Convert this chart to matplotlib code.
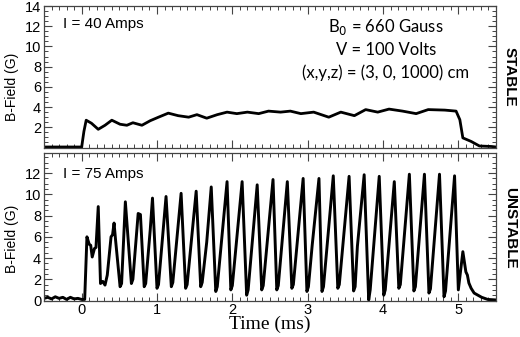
import matplotlib
matplotlib.use("Agg")
import matplotlib.pyplot as plt
from matplotlib.ticker import MultipleLocator, FixedLocator
import numpy as np

# ---- data ----
stable_t = [-0.5, -0.2, 0.0, 0.03, 0.06, 0.13, 0.22, 0.31, 0.40, 0.51, 0.60, 0.68, 0.80,
            0.91, 1.02, 1.15, 1.28, 1.42, 1.53, 1.66, 1.80, 1.93, 2.06, 2.20, 2.35,
            2.48, 2.64, 2.77, 2.91, 3.08, 3.28, 3.44, 3.62, 3.77, 3.93, 4.08, 4.26,
            4.44, 4.60, 4.82, 4.97, 5.02, 5.06, 5.17, 5.28, 5.44, 5.5]
stable_b = [0.05, 0.05, 0.05, 1.6, 2.7, 2.4, 1.8, 2.2, 2.7, 2.3, 2.2, 2.45, 2.2,
            2.65, 3.0, 3.4, 3.15, 3.0, 3.25, 2.9, 3.25, 3.5, 3.35, 3.5, 3.35,
            3.6, 3.5, 3.6, 3.35, 3.5, 3.0, 3.5, 3.15, 3.75, 3.5, 3.8, 3.6,
            3.35, 3.75, 3.7, 3.6, 2.75, 0.95, 0.6, 0.15, 0.1, 0.05]

unstable_t = [-0.5, -0.45, -0.4, -0.35, -0.3, -0.25, -0.2, -0.15, -0.1, -0.05, 0.0, 0.04,
              0.07, 0.10, 0.12, 0.14, 0.17, 0.19, 0.22, 0.25, 0.28, 0.31, 0.34, 0.39, 0.41,
              0.43, 0.45, 0.51, 0.53, 0.58, 0.66, 0.68, 0.75, 0.78, 0.83, 0.85, 0.91, 0.94,
              1.00, 1.02, 1.12, 1.19, 1.21, 1.32, 1.38, 1.40, 1.52, 1.58, 1.60, 1.66,
              1.72, 1.78, 1.80, 1.93, 1.98, 2.00, 2.13, 2.19, 2.21, 2.33, 2.39, 2.41,
              2.54, 2.59, 2.61, 2.73, 2.79, 2.81, 2.94, 2.99, 3.01, 3.06, 3.15, 3.19,
              3.21, 3.34, 3.40, 3.42, 3.55, 3.61, 3.63, 3.66, 3.75, 3.81, 3.83, 3.95,
              4.01, 4.03, 4.15, 4.21, 4.23, 4.35, 4.41, 4.43, 4.55, 4.61, 4.63, 4.75,
              4.81, 4.83, 4.95, 5.00, 5.06, 5.10, 5.12, 5.14, 5.17, 5.21, 5.26, 5.31,
              5.39, 5.5]
unstable_b = [0.2, 0.3, 0.15, 0.35, 0.2, 0.3, 0.1, 0.3, 0.15, 0.2, 0.1, 0.1,
              6.0, 5.3, 5.2, 4.1, 4.9, 5.0, 8.85, 1.6, 1.8, 1.45, 2.4, 6.0, 6.2,
              7.3, 5.7, 1.3, 1.6, 9.3, 1.6, 2.0, 8.2, 8.1, 1.3, 1.6, 6.65, 9.65,
              1.15, 1.5, 9.8, 1.3, 1.7, 10.1, 1.15, 1.5, 10.3, 1.3, 1.7, 5.5,
              10.7, 0.85, 1.3, 11.2, 1.0, 1.4, 11.2, 0.5, 1.0, 10.9, 1.0, 1.4,
              11.4, 1.0, 1.4, 11.2, 1.15, 1.5, 11.5, 0.85, 1.3, 5.2, 11.5, 0.85,
              1.3, 11.75, 1.15, 1.5, 11.7, 0.9, 1.3, 5.1, 11.85, 0.05, 1.0, 11.7,
              0.5, 1.0, 11.2, 1.15, 1.5, 11.9, 0.9, 1.3, 11.9, 0.7, 1.1, 11.9,
              0.35, 0.9, 11.75, 1.0, 4.6, 2.7, 2.4, 1.65, 1.15, 0.7, 0.5, 0.3,
              0.1, 0.05]

top_label = "I = 40 Amps"
bot_label = "I = 75 Amps"
info_lines = [r"B$_0$ = 660 Gauss", "V = 100 Volts", "(x,y,z) = (3, 0, 1000) cm"]
top_state = "STABLE"
bot_state = "UNSTABLE"
x_ticks = [0, 1, 2, 3, 4, 5]
top_yticks = [2, 4, 6, 8, 10, 12, 14]
bot_yticks = [0, 2, 4, 6, 8, 10, 12]

W, H = 520, 337
fig = plt.figure(figsize=(W / 100, H / 100), dpi=100)
sans = "Liberation Sans"

ax1 = fig.add_axes([44 / W, 1 - 147.5 / H, 452 / W, 141.5 / H])
ax2 = fig.add_axes([44 / W, 1 - 300.5 / H, 452 / W, 147.5 / H])

ax1.plot(stable_t, stable_b, color="black", lw=2.0, solid_joinstyle="round")
ax2.plot(unstable_t, unstable_b, color="black", lw=2.1, solid_joinstyle="round")

for ax, yt, ylim in ((ax1, top_yticks, (0, 14)), (ax2, bot_yticks, (0, 13.9))):
    ax.set_xlim(-0.5, 5.5)
    ax.set_ylim(*ylim)
    ax.xaxis.set_major_locator(FixedLocator(x_ticks))
    ax.xaxis.set_minor_locator(MultipleLocator(0.1))
    ax.yaxis.set_major_locator(FixedLocator(yt))
    ax.yaxis.set_minor_locator(MultipleLocator(0.5))
    ax.tick_params(which="both", direction="in", top=True, right=True,
                   color="#444444", labelsize=10.5)
    ax.tick_params(which="major", length=6, width=0.8, pad=2)
    ax.tick_params(which="minor", length=3, width=0.7)
    for s in ax.spines.values():
        s.set_color("#444444")
        s.set_linewidth(0.9)
    for lab in ax.get_yticklabels() + ax.get_xticklabels():
        lab.set_family(sans)
    ax.set_ylabel("B-Field (G)", family=sans, fontsize=10)

ax1.tick_params(labelbottom=False)
ax1.yaxis.set_label_coords(-0.056, 0.43)
ax2.yaxis.set_label_coords(-0.056, 0.42)
ax2.set_xlabel("Time (ms)", family="Liberation Serif", fontsize=14, labelpad=-1)

ax1.text(0.042, 0.873, top_label, transform=ax1.transAxes, family=sans,
         fontsize=11, va="center", ha="left")
ax2.text(0.042, 0.86, bot_label, transform=ax2.transAxes, family=sans,
         fontsize=11, va="center", ha="left")

cx = (386 - 44) / 452
for i, line in enumerate(info_lines):
    y = 1 - (27 + 23 * i - 6) / 141.5
    ax1.text(cx, y, line, transform=ax1.transAxes, family="Lato",
             fontsize=12, va="center", ha="center")

fig.text(510 / W, 1 - 77 / H, top_state, rotation=-90, fontweight="bold",
         family=sans, fontsize=11, ha="center", va="center")
fig.text(510 / W, 1 - 228 / H, bot_state, rotation=-90, fontweight="bold",
         family=sans, fontsize=11, ha="center", va="center")

fig.savefig("out.png", dpi=100)
